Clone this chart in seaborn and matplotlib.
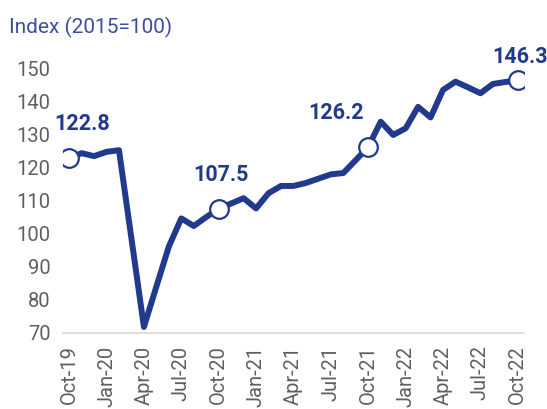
import numpy as np
import pandas as pd
import seaborn as sns
import matplotlib.pyplot as plt

months = pd.date_range("2019-10-01", "2022-10-01", freq="MS")
index_values = [122.8, 124.3, 123.4, 124.7, 125.2, 98.5, 71.8, 84.0, 96.1, 104.6,
                102.3, 105.0, 107.5, 109.1, 110.7, 107.6, 112.2, 114.4, 114.4, 115.3,
                116.6, 117.9, 118.3, 122.2, 126.2, 133.8, 129.8, 131.8, 138.3, 135.1,
                143.4, 145.9, 144.2, 142.4, 145.2, 145.8, 146.3]
highlight_pos = [0, 12, 24, 36]
label_offsets = [(13, 34), (2, 34), (-32, 34), (2, 23)]

df = pd.DataFrame({"pos": np.arange(len(months)), "value": index_values})
df["label"] = months.strftime("%b-%y")

sns.set_style("white")
plt.rcParams['font.family'] = ['Roboto', 'DejaVu Sans']

navy = "#223a8e"
fig = plt.figure(figsize=(5.47, 4.09), dpi=100)
ax = fig.add_axes([0.115, 0.186, 0.843, 0.688])

sns.lineplot(data=df, x="pos", y="value", color=navy, linewidth=4.3, ax=ax)
hl = df.iloc[highlight_pos]
sns.scatterplot(data=hl, x="pos", y="value", s=180, color="white",
                edgecolor=navy, linewidth=1.6, zorder=5, ax=ax)

for (_, row), (dx, dy) in zip(hl.iterrows(), label_offsets):
    ax.annotate(f"{row['value']:.1f}", (row["pos"], row["value"]),
                xytext=(dx, dy), textcoords="offset pixels",
                ha="center", va="center", fontsize=15.5, fontweight="bold",
                color=navy, annotation_clip=False)

ax.set_xlim(-0.5, 36.5)
ax.set_ylim(70, 155)
ax.set_yticks(range(70, 151, 10))
ax.set_xticks(df["pos"][::3])
ax.set_xticklabels(df["label"][::3], rotation=90)
ax.tick_params(axis="both", length=0, labelsize=14.5, labelcolor="#5f5f5f", pad=9)
ax.set_xlabel("")
ax.set_ylabel("")

for side in ["top", "right", "left"]:
    ax.spines[side].set_visible(False)
ax.spines["bottom"].set_color("#d9d9d9")
ax.spines["bottom"].set_linewidth(1.2)

fig.text(0.017, 0.932, "Index (2015=100)", fontsize=15, color="#3d4d9f",
         ha="left", va="center")

fig.savefig("out.png", dpi=100)
